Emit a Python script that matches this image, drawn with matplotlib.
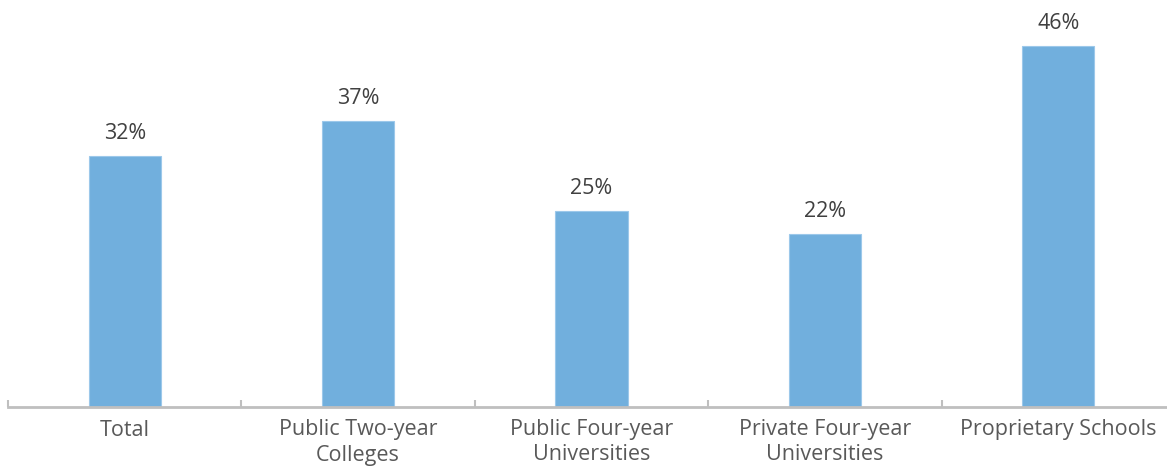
import numpy as np
import matplotlib.pyplot as plt

categories = ["Total", "Public Two-year\nColleges", "Public Four-year\nUniversities",
              "Private Four-year\nUniversities", "Proprietary Schools"]
values = [32, 36.4, 25, 22, 46]
labels = ["32%", "37%", "25%", "22%", "46%"]

plt.rcParams['font.family'] = ['Open Sans', 'DejaVu Sans']

fig = plt.figure(figsize=(11.67, 4.66), dpi=100)
# axes spans beyond the right edge a bit, like the original
ax = fig.add_axes([8 / 1167, 59 / 466, 1167 / 1167, 407 / 466])

x = np.arange(len(categories))
bars = ax.bar(x, values, width=0.31, color="#71AFDD", edgecolor="#9CC8EA", linewidth=0.8)

for xi, v, lab in zip(x, values, labels):
    ax.text(xi, v + 1.5, lab, ha="center", va="bottom", fontsize=15.5, color="#404040")

ax.set_xlim(-0.5, len(categories) - 0.5)
ax.set_ylim(0, 51.8)

for s in ["top", "right", "left"]:
    ax.spines[s].set_visible(False)
ax.spines["bottom"].set_color("#BFBFBF")
ax.spines["bottom"].set_linewidth(2)

ax.set_yticks([])
ax.set_xticks(x)
ax.set_xticklabels(categories, fontsize=15.5, color="#595959", linespacing=1.25)
ax.tick_params(axis="x", length=0, pad=9)

# category boundary ticks
ax.set_xticks(np.arange(len(categories) + 1) - 0.5, minor=True)
ax.tick_params(axis="x", which="minor", direction="in", length=5, width=1.5, color="#BFBFBF")

fig.savefig("out.png", dpi=100)
